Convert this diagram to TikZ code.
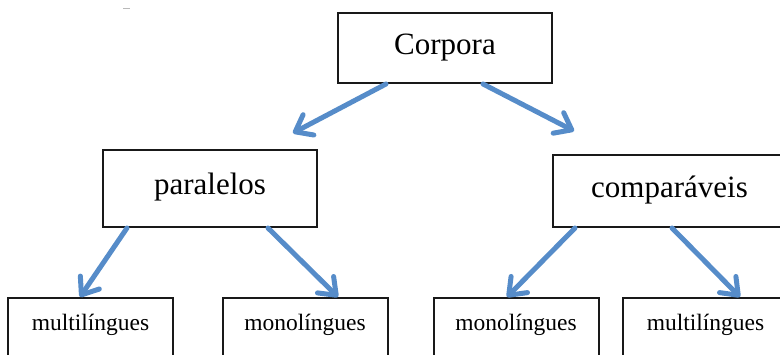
\documentclass[tikz,border=0pt]{standalone}
\usepackage{fontspec}
\setmainfont{Liberation Serif}
\usetikzlibrary{arrows.meta,positioning}
\definecolor{arrowblue}{RGB}{86,140,201}
\definecolor{boxline}{RGB}{25,25,25}
\tikzset{
  bigbox/.style={draw=boxline, line width=2pt, fill=white, inner sep=0pt,
    font=\fontsize{31}{36}\selectfont, text height=22pt, text depth=9pt},
  smallbox/.style={draw=boxline, line width=2pt, fill=white, inner sep=0pt,
    anchor=north, minimum width=165pt, minimum height=73pt,
    font=\fontsize{23.5}{28}\selectfont, text height=10pt, text depth=17pt},
  link/.style={draw=arrowblue, line width=5pt, line cap=round,
    -{Straight Barb[length=15pt,width=23pt,round]}}
}
\begin{document}
\begin{tikzpicture}[x=1pt,y=-1pt]
\useasboundingbox (0,0) rectangle (780,355);
\begin{scope}
\clip (0,0) rectangle (780,355);

% small grey tick near the top margin
\draw[gray!55, line width=1.4pt] (123,8.5) -- (130,8.5);

% tree of boxes
\node[bigbox, minimum width=214pt, minimum height=70pt] (corpora) at (445,48) {Corpora};
\node[bigbox, minimum width=214pt, minimum height=77pt] (paralelos) at (210,188.5) {paralelos};
\node[bigbox, minimum width=233pt, minimum height=72pt] (comparaveis) at (669.5,191) {comparáveis};

\node[smallbox] (multiA) at (90.5,297) {multilíngues};
\node[smallbox] (monoA) at (305,297) {monolíngues};
\node[smallbox] (monoB) at (516,297) {monolíngues};
\node[smallbox] (multiB) at (705.5,297) {multilíngues};

% free arrow ends between the first two levels
\coordinate (tipL) at (293,133);
\coordinate (tipR) at (574,131);

% connectors
\draw[link] ([xshift=-59pt]corpora.south) -- (tipL);
\draw[link] ([xshift=38pt]corpora.south) -- (tipR);
\draw[link] ([xshift=-83pt]paralelos.south) -- ([xshift=-10.5pt]multiA.north);
\draw[link] ([xshift=58pt]paralelos.south) -- ([xshift=33pt]monoA.north);
\draw[link] ([xshift=-94.5pt]comparaveis.south) -- ([xshift=-9pt]monoB.north);
\draw[link] ([xshift=2.5pt]comparaveis.south) -- ([xshift=34.5pt]multiB.north);
\end{scope}
\end{tikzpicture}
\end{document}
